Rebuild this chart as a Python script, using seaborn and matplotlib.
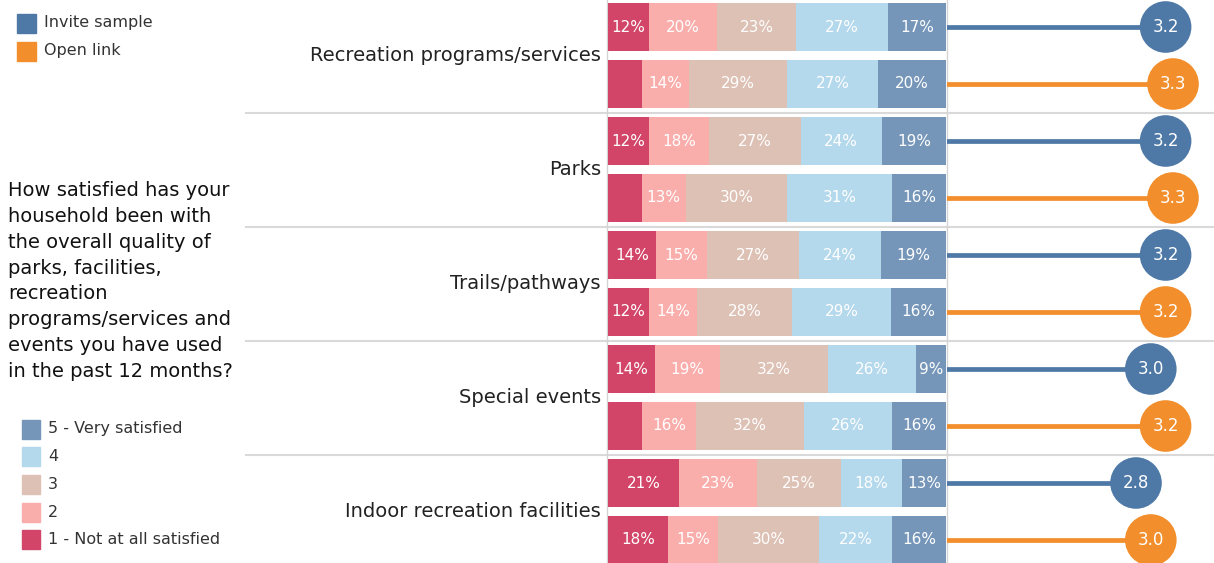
import numpy as np
import pandas as pd
import matplotlib
matplotlib.use("Agg")
import matplotlib.pyplot as plt
from matplotlib.patches import Rectangle
import seaborn as sns

# data
categories = ["Recreation programs/services", "Parks", "Trails/pathways",
              "Special events", "Indoor recreation facilities"]
sources = ["Invite sample", "Open link"]
levels = ["1 - Not at all satisfied", "2", "3", "4", "5 - Very satisfied"]

# one entry per row: (category, source) pairs, invite first
pct_1 = [12, 10, 12, 10, 14, 12, 14, 10, 21, 18]
pct_2 = [20, 14, 18, 13, 15, 14, 19, 16, 23, 15]
pct_3 = [23, 29, 27, 30, 27, 28, 32, 32, 25, 30]
pct_4 = [27, 27, 24, 31, 24, 29, 26, 26, 18, 22]
pct_5 = [17, 20, 19, 16, 19, 16, 9, 16, 13, 16]
mean_scores = [3.2, 3.3, 3.2, 3.3, 3.2, 3.2, 3.0, 3.2, 2.8, 3.0]
# labels Tableau dropped because they did not fit (row, level index)
hidden_labels = [(1, 0), (3, 0), (7, 0)]

question = ("How satisfied has your\nhousehold been with\nthe overall quality of\n"
            "parks, facilities,\nrecreation\nprograms/services and\n"
            "events you have used\nin the past 12 months?")

level_colors = ["#D24568", "#FAAEAC", "#DEC1B5", "#B4D8EC", "#7596B9"]
source_colors = {"Invite sample": "#4E79A7", "Open link": "#F28E2B"}
FONT = "DejaVu Sans"

sns.set_theme(style="white")
plt.rcParams["font.family"] = [FONT]

W, H = 1214, 563
fig = plt.figure(figsize=(W / 100, H / 100), dpi=100)

n_rows = len(pct_1)
row_ids = [f"r{i}" for i in range(n_rows)]
row_src = [sources[i % 2] for i in range(n_rows)]
pct = np.array([pct_1, pct_2, pct_3, pct_4, pct_5], dtype=float)
# rounded labels don't always add to 100, so stack on share of row total
share = pct / pct.sum(axis=0) * 100
cum = share.cumsum(axis=0)

# pixel layout
row0, row_step = 27, 57
ylim = ((H - row0) / row_step, -row0 / row_step)
bar_l, bar_r = 608, 946
lol_l = 947

# background canvas in pixel coords
bg = fig.add_axes([0, 0, 1, 1])
bg.set_xlim(0, W)
bg.set_ylim(H, 0)
bg.axis("off")
for k in range(1, len(categories)):
    y = row0 + row_step * (2 * k - 0.5)
    bg.plot([245, W], [y, y], color="#D9D9D9", lw=1.5, solid_capstyle="butt")
for x in (606.5, 946.5):
    bg.plot([x, x], [0, H], color="#D4D4D4", lw=1)

for k, cat in enumerate(categories):
    y = row0 + row_step * (2 * k + 0.5)
    bg.text(601, y, cat, ha="right", va="center", fontsize=14, color="#222222")

bg.text(8, 281, question, ha="left", va="center", fontsize=14,
        color="#111111", linespacing=1.46)

# source legend
for j, s in enumerate(sources):
    yc = 23 + 28 * j
    bg.add_patch(Rectangle((17, yc - 9.5), 19, 19, color=source_colors[s]))
    bg.text(44, yc, s, ha="left", va="center", fontsize=11.5, color="#333333")

# satisfaction legend (5 on top)
for j, lev in enumerate(reversed(levels)):
    yc = 429 + 27.7 * j
    bg.add_patch(Rectangle((22, yc - 9.5), 18, 19, color=level_colors[4 - j]))
    bg.text(48, yc, lev, ha="left", va="center", fontsize=11.5, color="#333333")

# stacked bars: draw cumulative totals from largest down so they layer
ax = fig.add_axes([bar_l / W, 0, (bar_r - bar_l) / W, 1])
ax.patch.set_alpha(0)
for lvl in range(4, -1, -1):
    df = pd.DataFrame({"row": row_ids, "total": cum[lvl]})
    sns.barplot(data=df, x="total", y="row", order=row_ids, orient="h",
                color=level_colors[lvl], saturation=1, width=0.83,
                linewidth=0, ax=ax)
for i in range(n_rows):
    for lvl in range(5):
        if (i, lvl) in hidden_labels:
            continue
        xc = cum[lvl, i] - share[lvl, i] / 2
        ax.text(xc, i, f"{int(pct[lvl, i])}%", ha="center", va="center",
                color="white", fontsize=11)
ax.set_xlim(0, 100)
ax.set_ylim(*ylim)
ax.axis("off")

# lollipops with mean scores
ax2 = fig.add_axes([lol_l / W, 0, (W - lol_l) / W, 1])
ax2.patch.set_alpha(0)
px_per_unit = 74
x0 = 3.3 - (1173 - lol_l) / px_per_unit
ax2.set_xlim(x0, x0 + (W - lol_l) / px_per_unit)
ax2.set_ylim(*ylim)
ypos = np.arange(n_rows)
ax2.hlines(ypos, 0, mean_scores, colors=[source_colors[s] for s in row_src],
           lw=3.4)
lol = pd.DataFrame({"mean": mean_scores, "pos": ypos, "source": row_src})
sns.scatterplot(data=lol, x="mean", y="pos", hue="source", palette=source_colors,
                s=1380, edgecolor="none", legend=False, ax=ax2, zorder=3,
                clip_on=False)
for i, m in enumerate(mean_scores):
    ax2.text(m, i, f"{m:.1f}", ha="center", va="center", color="white",
             fontsize=12, zorder=4)
ax2.axis("off")

fig.savefig("out.png", dpi=100)
